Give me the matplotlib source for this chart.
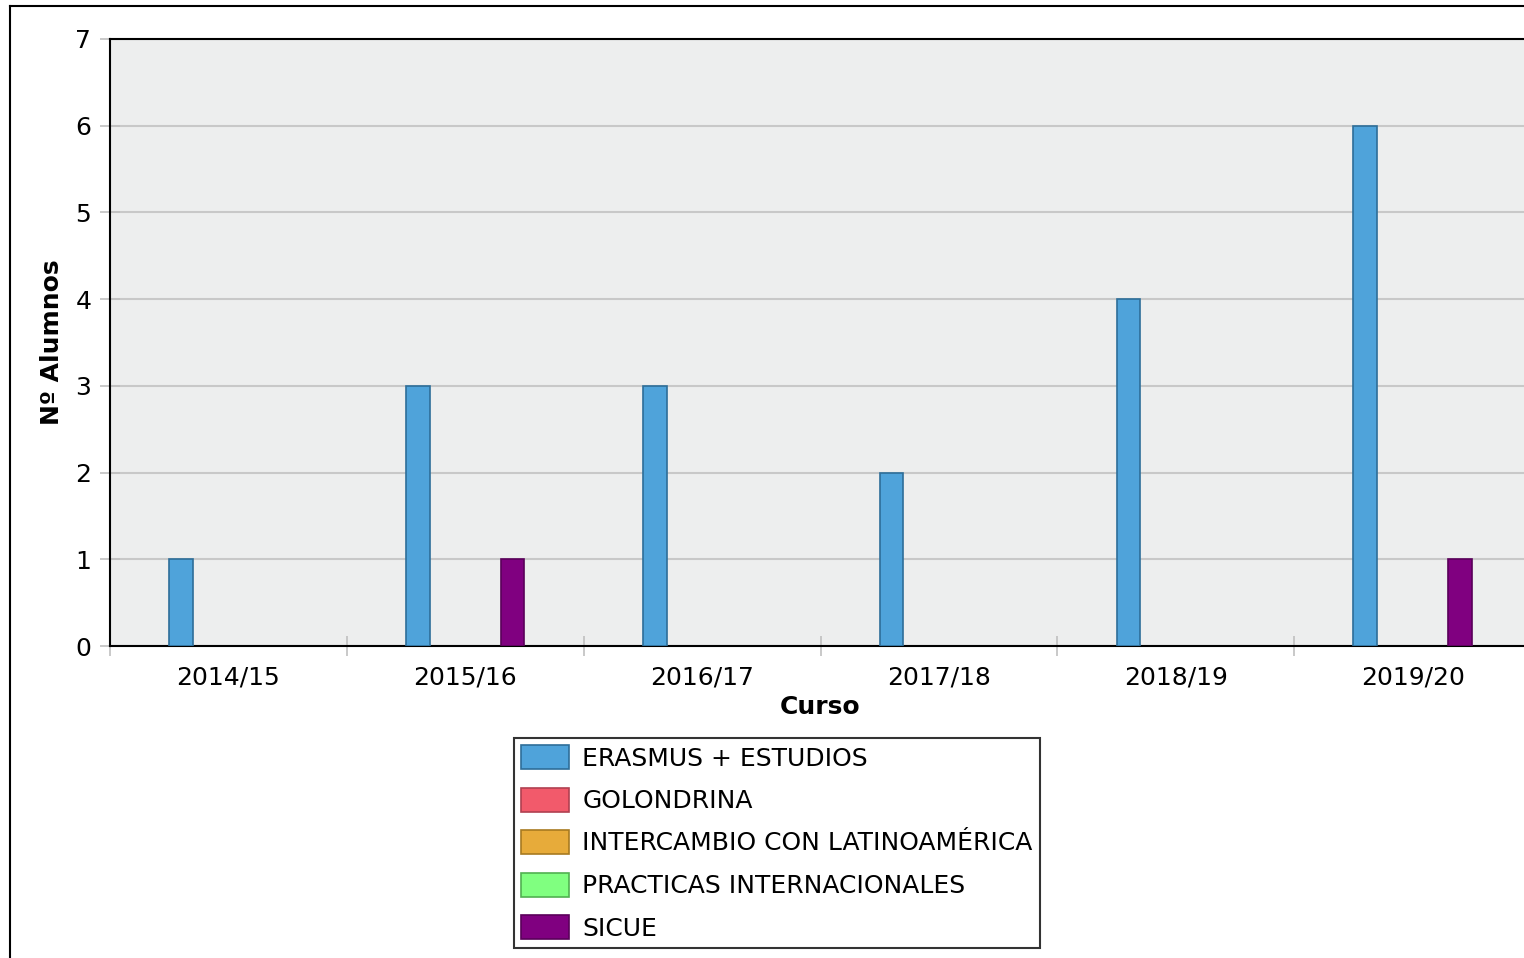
import numpy as np
import matplotlib.pyplot as plt
from matplotlib.patches import Patch
from matplotlib.lines import Line2D

#### Data ####
cursos = ['2014/15', '2015/16', '2016/17', '2017/18', '2018/19', '2019/20']
programas = ['ERASMUS + ESTUDIOS', 'GOLONDRINA', 'INTERCAMBIO CON LATINOAMÉRICA',
             'PRACTICAS INTERNACIONALES', 'SICUE']
erasmus = [1, 3, 3, 2, 4, 6]
golondrina = [0, 0, 0, 0, 0, 0]
intercambio = [0, 0, 0, 0, 0, 0]
practicas = [0, 0, 0, 0, 0, 0]
sicue = [0, 1, 0, 0, 0, 1]
series = [erasmus, golondrina, intercambio, practicas, sicue]

colores = ['#4fa3da', '#f25a6b', '#e7ab3a', '#80ff80', '#800080']
bordes = ['#2e6e99', '#b04050', '#a87a20', '#50b050', '#5a005a']

plt.rcParams['font.family'] = ['DejaVu Sans']

fig = plt.figure(figsize=(15.24, 9.58), dpi=100)
ax = fig.add_axes([110 / 1524, 1 - 646 / 958, 1421 / 1524, 607 / 958])
ax.set_facecolor('#edeeee')

#### Bars ####
x = np.arange(len(cursos))
w = 0.1
for i, vals in enumerate(series):
    vals = np.array(vals)
    # zero values leave no mark in the original chart
    lw = np.where(vals > 0, 1.2, 0)
    ax.bar(x + (i - 2) * w, vals, width=w, color=colores[i],
           edgecolor=bordes[i], linewidth=lw, zorder=3)

ax.set_xlim(-0.5, len(cursos) - 0.5)
ax.set_ylim(0, 7)

#### Axes styling ####
ax.set_yticks(range(0, 8))
ax.yaxis.grid(True, color='#c8c8c8', linewidth=1.5, zorder=0)
ax.set_axisbelow(True)
ax.tick_params(axis='y', direction='inout', length=15, width=1.2, color='#c0c0c0',
               labelsize=18, pad=6)

ax.set_xticks(x)
ax.set_xticklabels(cursos)
ax.set_xticks(np.arange(-0.5, len(cursos)), minor=True)
ax.tick_params(axis='x', which='major', length=0, labelsize=18, pad=14)
ax.tick_params(axis='x', which='minor', direction='inout', length=15, width=1.2,
               color='#c0c0c0')

for s in ['top', 'left', 'bottom']:
    ax.spines[s].set_color('black')
    ax.spines[s].set_linewidth(1.5)
ax.spines['right'].set_visible(False)

ax.set_xlabel('Curso', fontsize=18, fontweight='bold', labelpad=4)
ax.set_ylabel('Nº Alumnos', fontsize=18, fontweight='bold', labelpad=8)

#### Legend ####
handles = [Patch(facecolor=colores[i], edgecolor=bordes[i], linewidth=1.2)
           for i in range(len(programas))]
leg = fig.legend(handles, programas, loc='upper center',
                 bbox_to_anchor=(777 / 1524, 1 - 738 / 958),
                 fontsize=18, frameon=True, fancybox=False, edgecolor='black',
                 handlelength=1.9, handleheight=1.1, handletextpad=0.55,
                 labelspacing=0.68, borderpad=0.28, borderaxespad=0)
leg.get_frame().set_linewidth(1.5)

#### Outer frame ####
fig.add_artist(Line2D([10 / 1524, 1.0], [1 - 6 / 958, 1 - 6 / 958],
                      color='black', linewidth=1.5))
fig.add_artist(Line2D([10 / 1524, 10 / 1524], [0, 1 - 6 / 958],
                      color='black', linewidth=1.5))

fig.savefig('out.png', dpi=100)
